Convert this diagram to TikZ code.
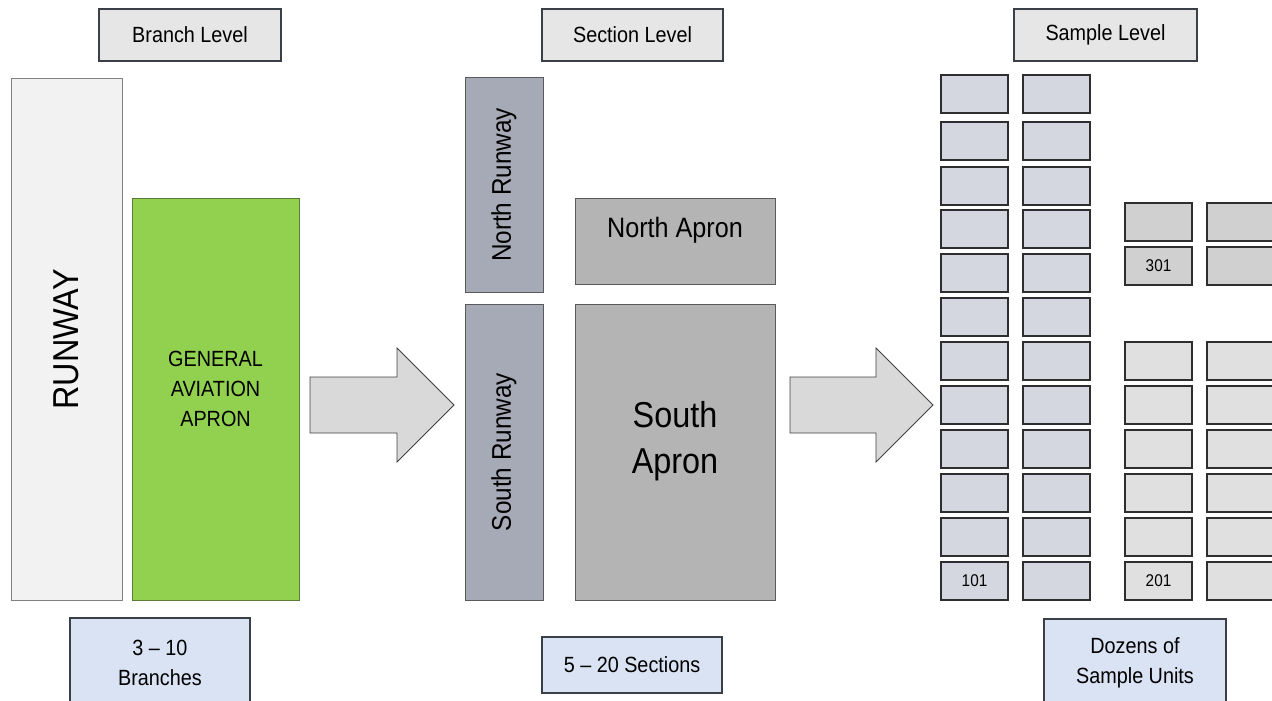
\documentclass[tikz,border=0pt]{standalone}
\usepackage{fontspec}
\setmainfont{Liberation Sans}[FakeStretch=0.9]
\definecolor{framedark}{HTML}{3B3F47}
\definecolor{levelfill}{HTML}{E6E6E6}
\definecolor{countfill}{HTML}{DAE3F3}
\definecolor{runwayfill}{HTML}{F2F2F2}
\definecolor{gafill}{HTML}{92D050}
\definecolor{galine}{HTML}{5E7A3A}
\definecolor{secrunway}{HTML}{A6A9B6}
\definecolor{secapron}{HTML}{B4B4B4}
\definecolor{secline}{HTML}{5A5A5A}
\definecolor{arrowfill}{HTML}{D9D9D9}
\definecolor{arrowline}{HTML}{404040}
\definecolor{unitblue}{HTML}{D4D7DF}
\definecolor{unitgray}{HTML}{D0D0D0}
\definecolor{unitlight}{HTML}{E0E0E0}
\definecolor{unitline}{HTML}{2E2E2E}
\begin{document}
\begin{tikzpicture}[x=1pt,y=-1pt,
  every node/.style={inner sep=0pt, outer sep=0pt, align=center,
    font=\fontsize{22}{29.5}\selectfont},
  levelbox/.style={draw=framedark, line width=2.4pt, fill=levelfill},
  countbox/.style={draw=framedark, line width=2.4pt, fill=countfill},
  areabox/.style={draw=gray, line width=1pt},
  secbox/.style={draw=secline, line width=1pt},
  unit/.style={draw=unitline, line width=1.4pt, minimum width=67pt,
    minimum height=38pt, font=\fontsize{17}{20}\selectfont},
  blockarrow/.style={draw=arrowline, line width=0.9pt, fill=arrowfill, line join=miter},
]
\useasboundingbox (0,0) rectangle (1272,701);
\clip (0,0) rectangle (1272,701);

% level headings
\node[levelbox, minimum width=182pt, minimum height=52pt] (lvlbranch) at (190,35) {Branch Level};
\node[levelbox, minimum width=181pt, minimum height=52pt] (lvlsection) at (632.5,35) {Section Level};
\node[levelbox, minimum width=183pt, minimum height=52pt] (lvlsample) at (1105.5,35) {Sample Level};

% branch level
\node[areabox, fill=runwayfill, rotate=90, minimum width=521pt, minimum height=111pt,
  font=\fontsize{36}{40}\selectfont] (runway) at (66.5,339.5) {RUNWAY};
\node[draw=galine, line width=1pt, fill=gafill, minimum width=167pt, minimum height=402pt,
  label={[yshift=10pt, align=center, font=\fontsize{22}{30}\selectfont]center:GENERAL\\AVIATION\\APRON}]
  (ga) at (215.5,399) {};

% section level
\node[secbox, fill=secrunway, rotate=90, minimum width=214pt, minimum height=78pt,
  font=\fontsize{27}{30}\selectfont] (nrunway) at (504,185) {North Runway};
\node[secbox, fill=secrunway, rotate=90, minimum width=296pt, minimum height=78pt,
  font=\fontsize{27}{30}\selectfont] (srunway) at (504,452) {South Runway};
\node[secbox, fill=secapron, minimum width=200pt, minimum height=86pt,
  label={[yshift=11pt, font=\fontsize{28}{30}\selectfont]center:North Apron}]
  (napron) at (675,241) {};
\node[secbox, fill=secapron, minimum width=200pt, minimum height=296pt,
  label={[yshift=11pt, align=center, font=\fontsize{36}{46}\selectfont]center:South\\Apron}]
  (sapron) at (675,452) {};

% block arrows between levels
\draw[blockarrow] (310,377) -- (397,377) -- (397,348) -- (454,405) -- (397,462) -- (397,433) -- (310,433) -- cycle;
\draw[blockarrow] (790,377) -- (876,377) -- (876,348) -- (933,405) -- (876,462) -- (876,433) -- (790,433) -- cycle;

% sample units: sections 100 and 200 style grid
\foreach \t [count=\i] in {75,122,167,210,254,298,342,386,430,474,518,562} {
  \node[unit, fill=unitblue] (ua\i) at (974.5,\t+19) {\ifnum\i=12 101\fi};
  \node[unit, fill=unitblue] (ub\i) at (1056.5,\t+19) {};
}
\foreach \t [count=\i] in {342,386,430,474,518,562} {
  \node[unit, fill=unitlight] (uc\i) at (1158.5,\t+19) {\ifnum\i=6 201\fi};
  \node[unit, fill=unitlight] (ud\i) at (1240.5,\t+19) {};
}
\foreach \t [count=\i] in {203,247} {
  \node[unit, fill=unitgray] (ue\i) at (1158.5,\t+19) {\ifnum\i=2 301\fi};
  \node[unit, fill=unitgray] (uf\i) at (1240.5,\t+19) {};
}

% counts
\node[countbox, minimum width=180pt, minimum height=90pt] (cbranch) at (160,663) {3 -- 10\\Branches};
\node[countbox, minimum width=180pt, minimum height=56pt] (csection) at (632,665) {5 -- 20 Sections};
\node[countbox, minimum width=182pt, minimum height=88pt] (csample) at (1135,663) {Dozens of\\Sample Units};
\end{tikzpicture}
\end{document}
